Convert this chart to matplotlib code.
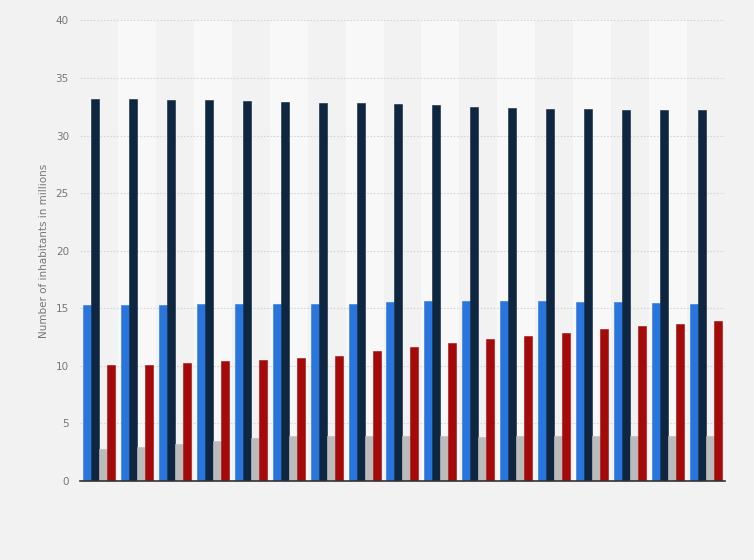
import matplotlib.pyplot as plt
import numpy as np

# values, 17 groups, 4 series each
blue = [15.26, 15.26, 15.26, 15.35, 15.35, 15.40, 15.40, 15.40, 15.52,
        15.61, 15.61, 15.61, 15.61, 15.52, 15.52, 15.43, 15.35]
navy = [33.16, 33.16, 33.07, 33.07, 32.99, 32.90, 32.81, 32.81, 32.73,
        32.64, 32.47, 32.38, 32.29, 32.29, 32.21, 32.21, 32.21]
grey = [2.75, 2.98, 3.24, 3.50, 3.76, 3.94, 3.94, 3.94, 3.94,
        3.94, 3.85, 3.88, 3.88, 3.94, 3.94, 3.94, 3.94]
red = [10.11, 10.11, 10.22, 10.40, 10.48, 10.66, 10.89, 11.27, 11.62,
       11.96, 12.31, 12.57, 12.86, 13.18, 13.44, 13.64, 13.87]

series = [blue, navy, grey, red]
colors = ['#2876dd', '#0f2640', '#bbbbbb', '#a50a0a']

bg = '#f2f2f2'
fig = plt.figure(figsize=(7.54, 5.6), dpi=100, facecolor=bg)
ax = fig.add_axes([0.1061, 0.1411, 0.8554, 0.8223])
ax.set_facecolor(bg)

n = len(blue)
x = np.arange(n)
w = 0.211

# alternating bands
for i in range(n):
    if i % 2 == 1:
        ax.axvspan(i - 0.5, i + 0.5, color='#f8f8f8', zorder=0, lw=0)

for k, (vals, c) in enumerate(zip(series, colors)):
    ax.bar(x + (k - 1.5) * w, vals, width=w, color=c, zorder=3,
           edgecolor=c, linewidth=0.4)

ax.set_xlim(-0.5, n - 0.5)
ax.set_ylim(0, 40)
ax.set_yticks(np.arange(0, 41, 5))
ax.set_xticks([])
ax.yaxis.grid(True, color='#d6d6d6', linestyle=(0, (1.5, 1.5)), linewidth=0.8, zorder=1)
ax.set_axisbelow(True)

for s in ['top', 'right', 'left']:
    ax.spines[s].set_visible(False)
ax.spines['bottom'].set_color('#333333')
ax.spines['bottom'].set_linewidth(1.2)
ax.spines['bottom'].set_zorder(5)

ax.tick_params(axis='y', length=0, pad=8, labelsize=7.5, labelcolor='#777777')
ax.set_ylabel('Number of inhabitants in millions', fontsize=7.5, color='#777777', labelpad=5)

plt.savefig('out.png', dpi=100, facecolor=bg)
